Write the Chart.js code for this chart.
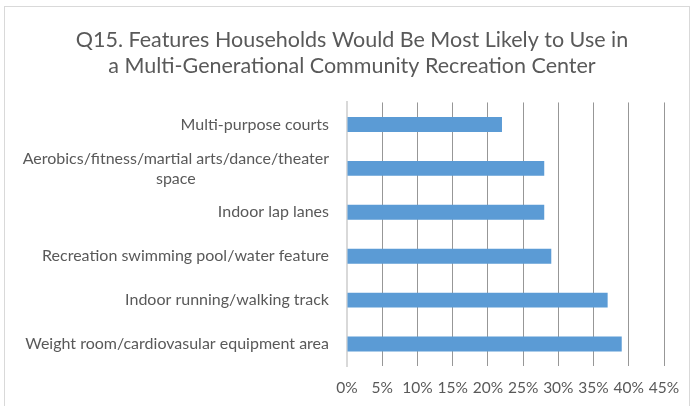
<!DOCTYPE html>
<html>
<head>
<meta charset="utf-8">
<script src="https://cdn.jsdelivr.net/npm/chart.js@4"></script>
<style>
  html, body { margin: 0; padding: 0; background: #fff; }
  #wrap { width: 693px; height: 406px; }
</style>
</head>
<body>
<div id="wrap"><canvas id="chart" width="693" height="406"></canvas></div>
<script>
// survey answers, top to bottom
const categories = [
    'Multi-purpose courts',
    ['Aerobics/fitness/martial arts/dance/theater', 'space'],
    'Indoor lap lanes',
    'Recreation swimming pool/water feature',
    'Indoor running/walking track',
    'Weight room/cardiovasular equipment area'
];
const percentValues = [22, 28, 28, 29, 37, 39];
const xTicks = [0, 5, 10, 15, 20, 25, 30, 35, 40, 45];

const titleLines = [
    'Q15. Features Households Would Be Most Likely to Use in',
    'a Multi-Generational Community Recreation Center'
];

const fontFamily = 'Lato, "Open Sans", sans-serif';
const textColor = '#595959';

// light frame around the whole chart
const framePlugin = {
    id: 'frame',
    beforeDraw(chart) {
        const ctx = chart.ctx;
        ctx.save();
        ctx.strokeStyle = '#d9d9d9';
        ctx.lineWidth = 1;
        ctx.strokeRect(4.5, 6.5, 685, 420);
        ctx.restore();
    }
};

// category labels: right aligned, wrapped lines centred on each other
const categoryLabels = {
    id: 'categoryLabels',
    afterDraw(chart) {
        const ctx = chart.ctx;
        const yScale = chart.scales.y;
        const rightEdge = yScale.right - 18;
        const lineHeight = 20;
        ctx.save();
        ctx.font = '16px ' + fontFamily;
        ctx.fillStyle = textColor;
        ctx.textBaseline = 'middle';
        ctx.textAlign = 'center';
        categories.forEach((label, i) => {
            const lines = Array.isArray(label) ? label : [label];
            const widest = Math.max(...lines.map(l => ctx.measureText(l).width));
            const cx = rightEdge - widest / 2;
            const yc = yScale.getPixelForValue(i);
            lines.forEach((line, j) => {
                const y = yc + (j - (lines.length - 1) / 2) * lineHeight;
                ctx.fillText(line, cx, y);
            });
        });
        ctx.restore();
    }
};

new Chart(document.getElementById('chart'), {
    type: 'bar',
    data: {
        labels: categories,
        datasets: [{
            data: percentValues,
            backgroundColor: '#5b9bd5',
            borderWidth: 0,
            barPercentage: 0.34,
            categoryPercentage: 1
        }]
    },
    options: {
        indexAxis: 'y',
        responsive: false,
        animation: false,
        layout: { padding: { left: 40, right: 29, top: 0, bottom: 0 } },
        scales: {
            x: {
                min: 0,
                max: 45,
                afterBuildTicks(scale) {
                    scale.ticks = xTicks.map(v => ({ value: v }));
                },
                afterFit(scale) { scale.height = 40; },
                grid: { color: '#979797', lineWidth: 1, drawTicks: false },
                border: { display: false },
                ticks: {
                    padding: 13,
                    color: textColor,
                    font: { family: fontFamily, size: 15.5 },
                    maxRotation: 0,
                    minRotation: 0,
                    autoSkip: false,
                    callback: v => v + '%'
                }
            },
            y: {
                afterFit(scale) { scale.width = 307; },
                grid: { display: false },
                border: { color: '#d9d9d9', width: 2 },
                ticks: { display: false }
            }
        },
        plugins: {
            legend: { display: false },
            tooltip: { enabled: false },
            title: {
                display: true,
                text: titleLines,
                color: textColor,
                font: { family: fontFamily, size: 21.5, weight: 'normal', lineHeight: 1.22 },
                padding: { top: 27, bottom: 23 }
            }
        }
    },
    plugins: [framePlugin, categoryLabels]
});
</script>
</body>
</html>
